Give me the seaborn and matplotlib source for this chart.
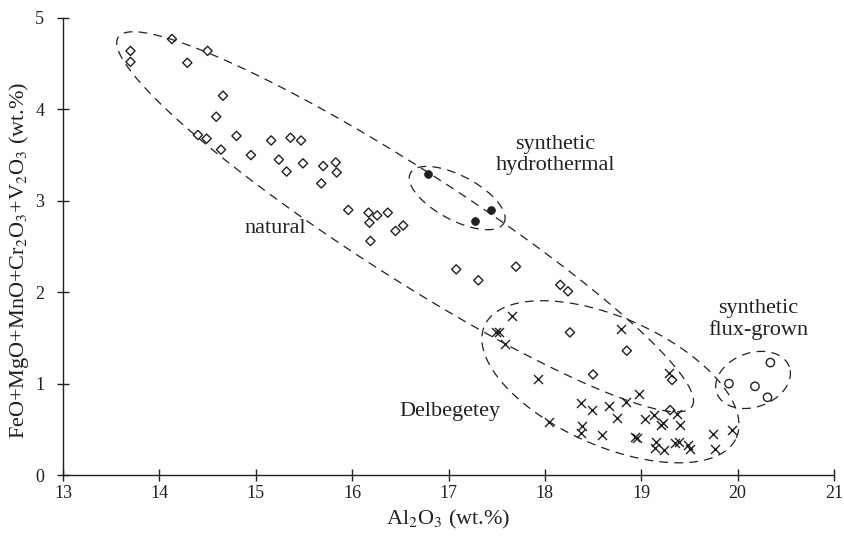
import numpy as np
import pandas as pd
import matplotlib
matplotlib.use("Agg")
import matplotlib.pyplot as plt
import seaborn as sns

# ---------------- data ----------------
natural_x = [13.70, 13.70, 14.13, 14.50, 14.29, 14.66, 14.59, 14.40, 14.49, 14.64,
             14.80, 14.95, 15.16, 15.36, 15.47, 15.24, 15.32, 15.49, 15.70, 15.83,
             15.84, 15.68, 15.96, 16.17, 16.26, 16.37, 16.18, 16.45, 16.53, 16.19,
             17.08, 17.31, 17.70, 18.16, 18.24, 18.26, 18.85, 18.50, 19.32, 19.30]
natural_y = [4.64, 4.52, 4.77, 4.64, 4.51, 4.15, 3.92, 3.72, 3.68, 3.56,
             3.71, 3.50, 3.66, 3.69, 3.66, 3.45, 3.32, 3.41, 3.38, 3.42,
             3.31, 3.19, 2.90, 2.87, 2.84, 2.87, 2.76, 2.67, 2.73, 2.56,
             2.25, 2.13, 2.28, 2.08, 2.01, 1.56, 1.36, 1.10, 1.04, 0.71]

hydro_x = [16.79, 17.44, 17.28]
hydro_y = [3.29, 2.90, 2.78]

delb_x = [17.66, 17.49, 17.52, 17.59, 17.93, 18.79, 19.29, 18.98, 18.37, 18.49,
          18.67, 18.84, 18.75, 18.04, 18.39, 18.37, 18.59, 19.04, 19.13, 19.20,
          19.23, 19.40, 19.37, 18.96, 18.93, 19.15, 19.14, 19.24, 19.35, 19.39,
          19.48, 19.51, 19.74, 19.77, 19.94]
delb_y = [1.74, 1.57, 1.56, 1.43, 1.05, 1.60, 1.12, 0.89, 0.79, 0.71,
          0.76, 0.80, 0.62, 0.58, 0.54, 0.46, 0.44, 0.61, 0.66, 0.55,
          0.57, 0.55, 0.67, 0.40, 0.42, 0.36, 0.29, 0.27, 0.35, 0.36,
          0.33, 0.28, 0.45, 0.28, 0.49]

flux_x = [20.34, 19.91, 20.18, 20.31]
flux_y = [1.23, 1.00, 0.97, 0.85]

# field outlines: centre (data), semi-axes (x-axis units), tilt (deg, display space)
ell_names = ["natural", "hydrothermal", "Delbegetey", "flux-grown"]
ell_cx = [16.55, 17.09, 18.68, 20.16]
ell_cy = [2.77, 3.03, 1.02, 1.04]
ell_a = [3.54, 0.55, 1.43, 0.40]
ell_b = [0.56, 0.23, 0.665, 0.28]
ell_ang = [-32.75, -28.0, -24.0, 20.0]

x_ticks = [13, 14, 15, 16, 17, 18, 19, 20, 21]
y_ticks = [0, 1, 2, 3, 4, 5]

labels_text = ["synthetic\nhydrothermal", "natural", "synthetic\nflux-grown", "Delbegetey"]
labels_x = [18.11, 15.20, 20.21, 17.02]
labels_y = [3.50, 2.70, 1.70, 0.70]

# ---------------- style ----------------
sns.set_theme(style="ticks")
plt.rcParams["font.family"] = ["Liberation Serif", "DejaVu Serif"]
plt.rcParams["mathtext.fontset"] = "stix"
INK = "#231f20"

fig = plt.figure(figsize=(8.45, 5.36), dpi=100)
ax = fig.add_axes([63 / 845, 1 - 475 / 536, (834 - 63) / 845, (475 - 18) / 536])

ax.set_xlim(13, 21)
ax.set_ylim(0, 5)

sns.scatterplot(x=natural_x, y=natural_y, marker="D", s=22, facecolor="none",
                edgecolor=INK, linewidth=1.0, ax=ax, zorder=3)
sns.scatterplot(x=hydro_x, y=hydro_y, marker="o", s=32, color=INK,
                edgecolor=INK, linewidth=0.5, ax=ax, zorder=3)
sns.scatterplot(x=delb_x, y=delb_y, marker="x", s=42, color=INK,
                linewidth=1.0, ax=ax, zorder=3)
sns.scatterplot(x=flux_x, y=flux_y, marker="o", s=36, facecolor="none",
                edgecolor=INK, linewidth=1.0, ax=ax, zorder=3)

# dashed field outlines drawn in display-proportional space
p0 = ax.transData.transform((0, 0))
p1 = ax.transData.transform((1, 1))
sx, sy = p1[0] - p0[0], p1[1] - p0[1]
t = np.linspace(0, 2 * np.pi, 400)
for cx, cy, a, b, ang in zip(ell_cx, ell_cy, ell_a, ell_b, ell_ang):
    th = np.deg2rad(ang)
    A, B = a * sx, b * sx
    dx = A * np.cos(t) * np.cos(th) - B * np.sin(t) * np.sin(th)
    dy = A * np.cos(t) * np.sin(th) + B * np.sin(t) * np.cos(th)
    ax.plot(cx + dx / sx, cy + dy / sy, color=INK, lw=0.9,
            linestyle=(0, (7, 5)), zorder=2)

for txt, tx, ty in zip(labels_text, labels_x, labels_y):
    ax.text(tx, ty, txt, ha="center", va="center", fontsize=16,
            linespacing=1.1, color=INK)

ax.set_xticks(x_ticks)
ax.set_yticks(y_ticks)
ax.tick_params(direction="inout", length=9, width=1, labelsize=13, colors=INK)
ax.tick_params(axis="x", pad=3)
ax.tick_params(axis="y", pad=9)
for s in ["top", "right"]:
    ax.spines[s].set_visible(False)
for s in ["left", "bottom"]:
    ax.spines[s].set_linewidth(1.0)
    ax.spines[s].set_color(INK)

ax.set_xlabel("Al$_2$O$_3$ (wt.%)", fontsize=16, color=INK)
ax.set_ylabel("FeO+MgO+MnO+Cr$_2$O$_3$+V$_2$O$_3$ (wt.%)", fontsize=16, color=INK)
ax.xaxis.set_label_coords(0.5, -0.072)
ax.yaxis.set_label_coords(-0.042, 0.47)

fig.savefig("out.png", dpi=100)
